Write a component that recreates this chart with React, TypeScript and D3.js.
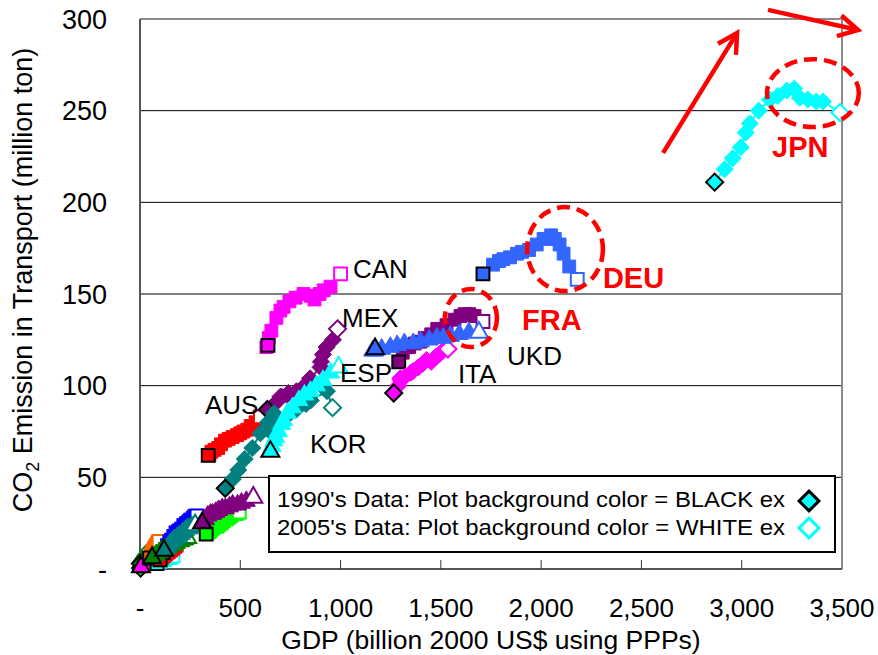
import React from "react";
import * as d3 from "d3";

// GDP (billion 2000 US$ PPP) vs transport CO2 (million ton), 1990 -> 2005
const jpn = [[2865, 211], [2915, 218], [2955, 224], [2995, 230], [3020, 238], [3040, 243], [3085, 250], [3140, 256], [3180, 258], [3225, 261], [3262, 262], [3290, 257], [3330, 256], [3372, 255], [3405, 255], [3490, 249]];
const deu = [[1710, 161], [1760, 166], [1790, 168], [1812, 169], [1845, 170], [1880, 172], [1905, 173], [1940, 174], [1978, 177], [2012, 180], [2050, 182], [2068, 180], [2092, 177], [2112, 172], [2140, 165], [2180, 158]];
const fra = [[1290, 113], [1310, 118], [1328, 121], [1342, 121], [1370, 123], [1398, 124], [1420, 126], [1452, 128], [1482, 131], [1528, 133], [1568, 136], [1598, 138], [1618, 139], [1642, 139], [1668, 138], [1710, 135]];
const ukd = [[1172, 120], [1160, 119], [1170, 119], [1205, 120], [1248, 121], [1282, 122], [1318, 123], [1362, 123], [1398, 124], [1442, 125], [1480, 126], [1512, 126], [1548, 127], [1592, 128], [1640, 129], [1690, 129]];
const ita = [[1265, 96], [1288, 100], [1300, 103], [1298, 104], [1322, 105], [1350, 107], [1362, 108], [1388, 110], [1410, 112], [1428, 114], [1452, 113], [1468, 115], [1478, 116], [1492, 117], [1510, 119], [1535, 120]];
const can = [[638, 122], [630, 121], [642, 126], [655, 130], [680, 137], [700, 141], [716, 143], [745, 146], [776, 148], [815, 150], [852, 149], [870, 147], [895, 150], [916, 152], [950, 154], [1000, 161]];
const mex = [[635, 87], [662, 89], [690, 92], [706, 94], [740, 96], [700, 94], [732, 95], [780, 97], [820, 100], [848, 104], [900, 110], [902, 113], [912, 117], [930, 121], [962, 125], [985, 131]];
const kor = [[425, 44], [462, 49], [490, 54], [522, 60], [560, 66], [600, 74], [638, 80], [668, 85], [640, 76], [700, 80], [748, 85], [780, 87], [828, 90], [852, 92], [932, 97], [960, 88]];
const esp = [[650, 64], [658, 67], [668, 70], [676, 72], [690, 75], [706, 79], [716, 81], [736, 85], [760, 88], [792, 92], [820, 95], [850, 97], [880, 100], [912, 103], [950, 107], [990, 110]];
const aus = [[340, 62], [346, 62], [356, 64], [372, 65], [390, 66], [404, 68], [424, 70], [442, 71], [462, 72], [484, 73], [500, 74], [516, 75], [535, 76], [552, 78], [576, 80], [600, 83]];
const nld = [[310, 25], [318, 27], [327, 27], [338, 29], [352, 30], [362, 30], [378, 31], [392, 32], [410, 33], [426, 33], [446, 34], [462, 35], [486, 35], [506, 36], [530, 37], [565, 39]];
const pol = [[330, 19], [336, 20], [347, 20], [355, 21], [366, 22], [374, 23], [386, 23], [397, 24], [409, 25], [418, 26], [433, 27], [446, 28], [457, 29], [471, 30], [483, 30], [495, 31]];
const bel = [[115, 9], [126, 11], [134, 13], [146, 15], [154, 16], [166, 18], [177, 20], [191, 21], [204, 22], [216, 24], [229, 25], [241, 26], [250, 27], [263, 28], [271, 29], [284, 29]];
const aut = [[120, 10], [131, 11], [139, 12], [151, 14], [161, 15], [169, 16], [183, 17], [194, 18], [206, 19], [214, 20], [226, 21], [236, 22], [244, 22], [256, 23], [264, 23], [275, 24]];
const swe = [[60, 6], [71, 7], [81, 8], [96, 9], [107, 10], [121, 11], [131, 11], [146, 12], [157, 13], [171, 13], [181, 14], [196, 15], [204, 15], [216, 16], [224, 16], [235, 17]];
const che = [[48, 6], [53, 7], [55, 8], [59, 8], [61, 9], [63, 10], [67, 10], [70, 11], [72, 12], [76, 12], [78, 13], [81, 13], [84, 14], [86, 14], [90, 15], [95, 15]];
const grc = [[100, 5], [106, 6], [110, 6], [116, 7], [121, 7], [125, 8], [131, 8], [136, 9], [143, 9], [148, 10], [155, 10], [160, 11], [166, 11], [171, 12], [176, 12], [180, 13]];
const prt = [[85, 3], [93, 4], [98, 4], [105, 4], [110, 5], [116, 5], [121, 5], [127, 5], [132, 6], [139, 6], [143, 6], [149, 6], [153, 6], [158, 7], [161, 7], [165, 7]];
const nor = [[5, 1], [10, 2], [13, 2], [18, 3], [21, 3], [26, 4], [29, 4], [34, 5], [37, 5], [42, 5], [45, 6], [50, 6], [53, 6], [58, 7], [61, 7], [65, 7]];
const dnk = [[2, 3], [6, 4], [8, 4], [12, 5], [14, 5], [18, 6], [20, 6], [24, 7], [26, 7], [30, 7], [32, 8], [36, 8], [38, 8], [42, 9], [44, 9], [47, 10]];
const lux = [[3, 0.5], [4, 1], [6, 1], [6, 1.5], [8, 1.5], [8, 2], [10, 2], [10, 2], [12, 2.5], [12, 2.5], [14, 3], [14, 3], [16, 3], [16, 3.5], [18, 3.5], [18, 4]];

const series = [
  { name: "LUX", data: lux, color: "#00ff00", shape: "diamond" },
  { name: "DNK", data: dnk, color: "#008000", shape: "diamond" },
  { name: "NOR", data: nor, color: "#ff00ff", shape: "triangle" },
  { name: "PRT", data: prt, color: "#00ffff", shape: "square" },
  { name: "CHE", data: che, color: "#ff6600", shape: "square" },
  { name: "GRC", data: grc, color: "#ff0000", shape: "square" },
  { name: "BEL", data: bel, color: "#0000ff", shape: "square" },
  { name: "SWE", data: swe, color: "#008000", shape: "triangle" },
  { name: "AUT", data: aut, color: "#008080", shape: "triangle" },
  { name: "POL", data: pol, color: "#00ff00", shape: "square" },
  { name: "NLD", data: nld, color: "#800080", shape: "triangle" },
  { name: "AUS", data: aus, color: "#ff0000", shape: "square" },
  { name: "MEX", data: mex, color: "#800080", shape: "diamond" },
  { name: "KOR", data: kor, color: "#008080", shape: "diamond" },
  { name: "ESP", data: esp, color: "#00ffff", shape: "triangle" },
  { name: "CAN", data: can, color: "#ff00ff", shape: "square" },
  { name: "FRA", data: fra, color: "#800080", shape: "square" },
  { name: "ITA", data: ita, color: "#ff00ff", shape: "diamond" },
  { name: "UKD", data: ukd, color: "#3366ff", shape: "triangle" },
  { name: "DEU", data: deu, color: "#3366ff", shape: "square" },
  { name: "JPN", data: jpn, color: "#00ffff", shape: "diamond" },
];

// country labels: [text, gdp, co2] of the text's left baseline
const labels = [
  ["CAN", 1062, 158.7], ["MEX", 1007, 132], ["ESP", 997, 102], ["AUS", 324, 84.5],
  ["KOR", 848, 63.3], ["ITA", 1585, 101.5], ["UKD", 1830, 111.3],
];
const redLabels = [["FRA", 1905, 130.4], ["DEU", 2308, 153.3], ["JPN", 3151, 224.7]];

// dashed circles: [gdp, co2, rx (gdp), ry (co2)]
const rings = [[3355, 259.6, 229, 18.5], [2119, 174.5, 189, 22.9], [1650, 136.9, 130, 15.8]];
// trend arrows: [gdp0, co20, gdp1, co21]
const arrows = [[2608, 227, 2977, 292.4], [3131, 305, 3580, 294]];

const xTicks = [0, 500, 1000, 1500, 2000, 2500, 3000, 3500];
const yTicks = [0, 50, 100, 150, 200, 250, 300];

const FONT = "'Liberation Sans', Arial, sans-serif";

const shapes: any = { square: d3.symbolSquare, diamond: d3.symbolDiamond2, triangle: d3.symbolTriangle };
const sizes: any = { square: 165, diamond: 185, triangle: 140 };

export default function App() {
  const x = d3.scaleLinear().domain([0, 3500]).range([140, 842]);
  const y = d3.scaleLinear().domain([0, 300]).range([569, 19]);
  const line = d3.line<number[]>().x(d => x(d[0])).y(d => y(d[1]));
  const fmt = d3.format(",");

  const arrowHead = (a: number[]) => {
    const x0 = x(a[0]), y0 = y(a[1]), x1 = x(a[2]), y1 = y(a[3]);
    const ang = Math.atan2(y1 - y0, x1 - x0);
    const L = 22, spread = 0.5;
    const p1 = [x1 - L * Math.cos(ang - spread), y1 - L * Math.sin(ang - spread)];
    const p2 = [x1 - L * Math.cos(ang + spread), y1 - L * Math.sin(ang + spread)];
    return `M${p1[0]},${p1[1]}L${x1},${y1}L${p2[0]},${p2[1]}`;
  };

  const legendDiamond = d3.symbol(d3.symbolDiamond2, 250)()!;

  return (
    <div style={{ position: "absolute", left: 0, top: 0 }}>
      <svg width={878} height={655} style={{ display: "block", fontFamily: FONT }}>
        <rect width={878} height={655} fill="white" />

        {/* gridlines */}
        {yTicks.filter(t => t > 0 && t < 300).map(t => (
          <line key={t} x1={x(0)} x2={x(3500)} y1={y(t)} y2={y(t)} stroke="#000" strokeWidth={1} />
        ))}
        {/* frame */}
        <line x1={x(0)} x2={x(3500)} y1={y(300)} y2={y(300)} stroke="#8c8c8c" strokeWidth={2} />
        <line x1={x(3500)} x2={x(3500)} y1={y(300)} y2={y(0)} stroke="#8c8c8c" strokeWidth={2} />
        <line x1={x(0)} x2={x(0)} y1={y(300)} y2={y(0)} stroke="#555" strokeWidth={2} />
        <line x1={x(0)} x2={x(3500)} y1={y(0)} y2={y(0)} stroke="#555" strokeWidth={2} />
        {xTicks.filter(t => t > 0 && t < 3500).map(t => (
          <line key={t} x1={x(t)} x2={x(t)} y1={y(0)} y2={y(0) - 9} stroke="#333" strokeWidth={1} />
        ))}

        {/* tick labels */}
        {yTicks.map(t => (
          <text key={t} x={107} y={y(t)} dy="0.36em" textAnchor="end" fontSize={27}>
            {t === 0 ? "-" : fmt(t)}
          </text>
        ))}
        {xTicks.map(t => (
          <text key={t} x={x(t)} y={617} textAnchor="middle" fontSize={26}>
            {t === 0 ? "-" : fmt(t)}
          </text>
        ))}
        <text x={491} y={649} textAnchor="middle" fontSize={26.5}>GDP (billion 2000 US$ using PPPs)</text>
        <text transform="translate(32,280) rotate(-90)" textAnchor="middle" fontSize={27}>
          CO<tspan dy={7} fontSize={18}>2</tspan><tspan dy={-7}> Emission in Transport (million ton)</tspan>
        </text>

        {/* series */}
        {series.map(s => {
          const sym = d3.symbol(shapes[s.shape], sizes[s.shape])()!;
          const pts = s.data;
          const first = pts[0], last = pts[pts.length - 1];
          return (
            <g key={s.name}>
              <path d={line(pts)!} fill="none" stroke={s.color} strokeWidth={2} />
              {pts.slice(1, -1).map((d, i) => (
                <path key={i} d={sym} transform={`translate(${x(d[0])},${y(d[1])})`}
                  fill={s.color} stroke={s.color} strokeWidth={1} />
              ))}
              <path d={sym} transform={`translate(${x(first[0])},${y(first[1])})`}
                fill={s.color} stroke="#000" strokeWidth={2} />
              <path d={sym} transform={`translate(${x(last[0])},${y(last[1])})`}
                fill="#fff" stroke={s.color} strokeWidth={2} />
            </g>
          );
        })}

        {/* labels */}
        {labels.map(l => (
          <text key={l[0] as string} x={x(l[1] as number)} y={y(l[2] as number)} fontSize={26}>{l[0]}</text>
        ))}
        {redLabels.map(l => (
          <text key={l[0] as string} x={x(l[1] as number)} y={y(l[2] as number)} fontSize={29}
            fontWeight="bold" fill="#ff0000">{l[0]}</text>
        ))}

        {/* annotations */}
        {rings.map((r, i) => (
          <ellipse key={i} cx={x(r[0])} cy={y(r[1])} rx={x(r[2]) - x(0)} ry={y(0) - y(r[3])}
            fill="none" stroke="#ff0000" strokeWidth={4.5} strokeDasharray="13 7" />
        ))}
        {arrows.map((a, i) => (
          <g key={i} stroke="#ff0000" strokeWidth={4.5} fill="none" strokeLinecap="butt">
            <line x1={x(a[0])} y1={y(a[1])} x2={x(a[2])} y2={y(a[3])} />
            <path d={arrowHead(a)} />
          </g>
        ))}

        {/* legend box */}
        <rect x={269} y={476} width={566} height={76} fill="#fff" stroke="#000" strokeWidth={2} />
        <text x={277} y={507} fontSize={22} textLength={508} lengthAdjust="spacingAndGlyphs">1990's Data: Plot background color = BLACK ex</text>
        <text x={277} y={535} fontSize={22} textLength={508} lengthAdjust="spacingAndGlyphs">2005's Data: Plot background color = WHITE ex</text>
        <path d={legendDiamond} transform="translate(809,501)" fill="#00ffff" stroke="#000" strokeWidth={3} />
        <path d={legendDiamond} transform="translate(809,528)" fill="#fff" stroke="#00ffff" strokeWidth={3} />
      </svg>
    </div>
  );
}
